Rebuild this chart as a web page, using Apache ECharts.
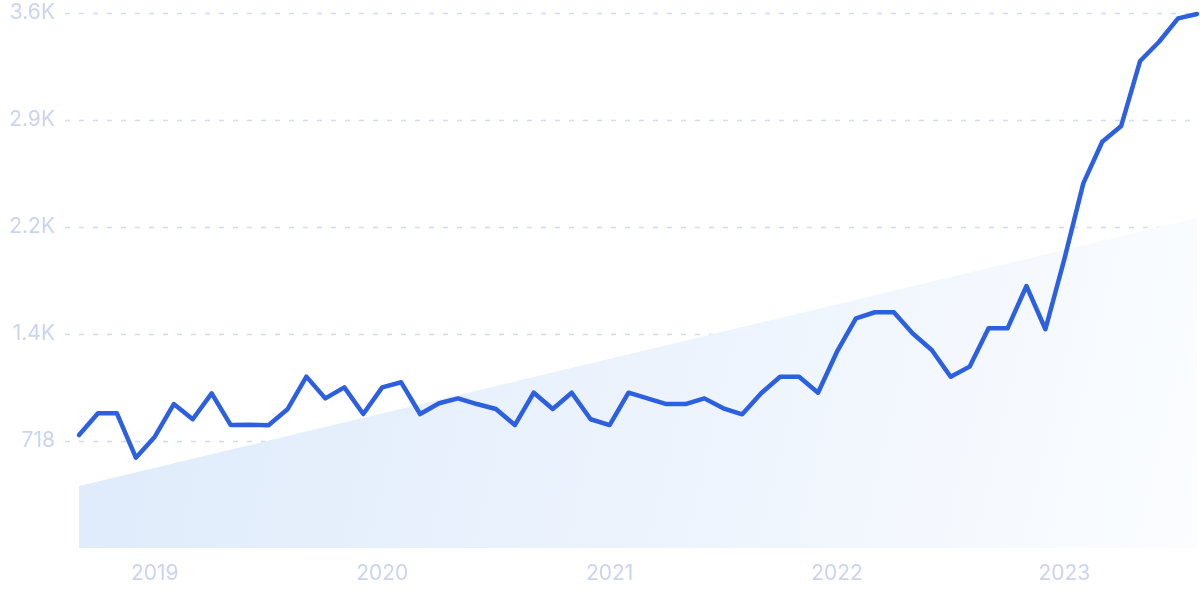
<!DOCTYPE html>
<html>
<head>
<meta charset="utf-8">
<script src="https://cdn.jsdelivr.net/npm/echarts@6/dist/echarts.min.js"></script>
<style>
  html, body { margin: 0; padding: 0; background: #ffffff; }
  #chart { width: 1200px; height: 600px; }
</style>
</head>
<body>
<div id="chart"></div>
<script>
// Monthly points, Sep 2018 .. Aug 2023
const months = [
  '2018-09','2018-10','2018-11','2018-12',
  '2019-01','2019-02','2019-03','2019-04','2019-05','2019-06','2019-07','2019-08','2019-09','2019-10','2019-11','2019-12',
  '2020-01','2020-02','2020-03','2020-04','2020-05','2020-06','2020-07','2020-08','2020-09','2020-10','2020-11','2020-12',
  '2021-01','2021-02','2021-03','2021-04','2021-05','2021-06','2021-07','2021-08','2021-09','2021-10','2021-11','2021-12',
  '2022-01','2022-02','2022-03','2022-04','2022-05','2022-06','2022-07','2022-08','2022-09','2022-10','2022-11','2022-12',
  '2023-01','2023-02','2023-03','2023-04','2023-05','2023-06','2023-07','2023-08'
];
const values = [
  758, 904, 904, 606,
  747, 966, 864, 1038, 826, 827, 824, 931, 1150, 1004, 1078, 899,
  1078, 1112, 899, 971, 1004, 966, 933, 825, 1042, 933, 1042, 864,
  825, 1042, 1004, 966, 966, 1004, 937, 897, 1038, 1149, 1149, 1042,
  1317, 1541, 1582, 1582, 1439, 1329, 1149, 1217, 1474, 1474, 1758, 1468,
  1939, 2447, 2726, 2832, 3268, 3397, 3554, 3583
];
// Trend band: start and end values
const trendStart = 416;
const trendEnd = 2215;
// Axis ticks
const yTicks = [718, 1436, 2154, 2872, 3590];
const yTickLabels = ['718', '1.4K', '2.2K', '2.9K', '3.6K'];
const yearLabelMonths = ['2019-01', '2020-01', '2021-01', '2022-01', '2023-01'];
const yearLabels = ['2019', '2020', '2021', '2022', '2023'];

const lineData = values.map((v, i) => [i, v]);
const lastIdx = months.length - 1;
const trendData = [[0, trendStart], [lastIdx, trendEnd]];
const yearIdx = yearLabelMonths.map(m => months.indexOf(m));

const chart = echarts.init(document.getElementById('chart'), null, { renderer: 'canvas' });
const labelColor = '#cad4f2';
const fontFamily = 'Inter, "Noto Sans", sans-serif';

chart.setOption({
  animation: false,
  backgroundColor: '#ffffff',
  grid: { left: 65, right: 3, top: 13, bottom: 52, containLabel: false },
  xAxis: {
    type: 'value',
    min: -0.74,
    max: lastIdx,
    axisLine: { show: false },
    axisTick: { show: false },
    splitLine: { show: false },
    axisLabel: {
      customValues: yearIdx,
      color: labelColor,
      fontSize: 21,
      fontFamily: fontFamily,
      margin: 15,
      formatter: function (v) {
        const k = yearIdx.indexOf(Math.round(v));
        return k >= 0 ? yearLabels[k] : '';
      }
    }
  },
  yAxis: {
    type: 'value',
    min: 0,
    max: 3590,
    interval: 718,
    axisLine: { show: false },
    axisTick: { show: false },
    axisLabel: {
      showMinLabel: false,
      color: labelColor,
      fontSize: 21,
      fontFamily: fontFamily,
      margin: 10,
      formatter: function (v) {
        const k = yTicks.indexOf(v);
        return k >= 0 ? yTickLabels[k] : '';
      }
    }
    ,
    splitLine: {
      show: true,
      showMinLine: false,
      lineStyle: { color: '#cfdcf6', width: 1.4, type: [5, 9] }
    }
  },
  series: [
    {
      type: 'line',
      data: trendData,
      symbol: 'none',
      silent: true,
      z: 1,
      lineStyle: { width: 0, opacity: 0 },
      areaStyle: {
        opacity: 1,
        color: {
          type: 'linear', x: 0, y: 0.2, x2: 1, y2: 1,
          colorStops: [
            { offset: 0, color: '#deebfb' },
            { offset: 0.5, color: '#ecf3fd' },
            { offset: 1, color: '#fbfdff' }
          ]
        }
      }
    },
    {
      type: 'line',
      data: lineData,
      symbol: 'none',
      smooth: false,
      z: 3,
      lineStyle: { color: '#2c60e1', width: 4.5, join: 'round', cap: 'round' }
    }
  ]
});
</script>
</body>
</html>
